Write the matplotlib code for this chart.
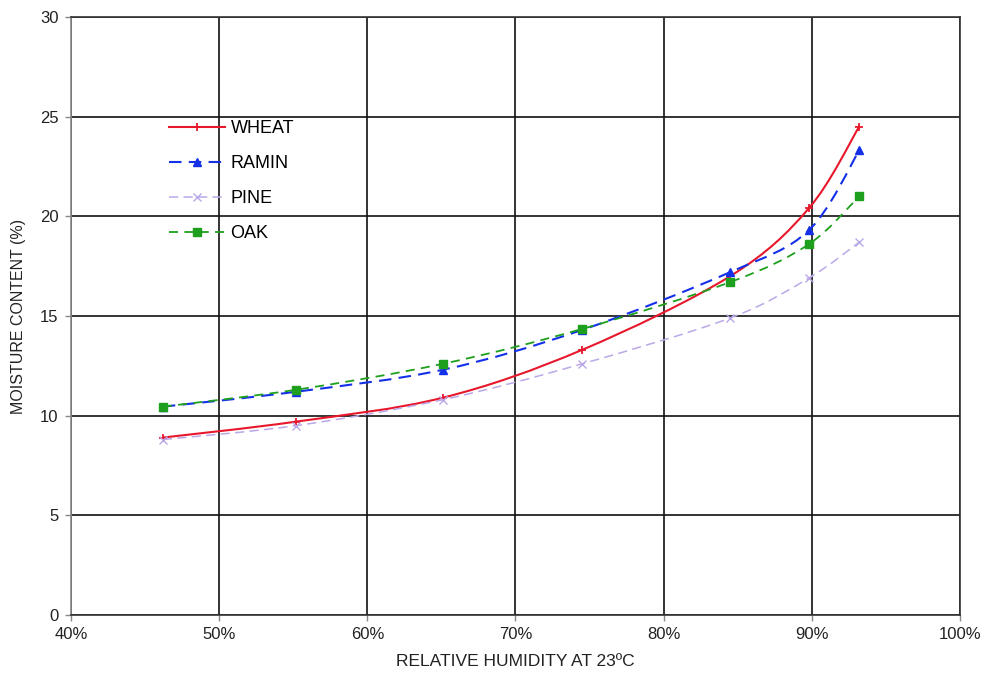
import matplotlib
matplotlib.use("Agg")
import matplotlib.pyplot as plt
import numpy as np
from matplotlib.path import Path
from matplotlib.patches import PathPatch
from matplotlib.lines import Line2D
from matplotlib.ticker import FuncFormatter, MultipleLocator

plt.rcParams['font.family'] = ['Liberation Sans', 'DejaVu Sans']

# Relative humidity of the salt-solution chambers (fraction)
humidity = [0.462, 0.552, 0.651, 0.745, 0.845, 0.898, 0.932]

# Equilibrium moisture content (%)
wheat = [8.9, 9.7, 10.9, 13.3, 17.0, 20.4, 24.5]
ramin = [10.45, 11.2, 12.3, 14.3, 17.2, 19.3, 23.3]
pine = [8.8, 9.5, 10.8, 12.6, 14.9, 16.9, 18.7]
oak = [10.45, 11.3, 12.6, 14.35, 16.7, 18.6, 21.0]

series = [
    ("WHEAT", wheat, dict(color="#E8182C", ls="-", lw=1.5, marker="+", ms=6, mew=1.3)),
    ("RAMIN", ramin, dict(color="#1430E8", ls=(0, (6, 3.5)), lw=1.5, marker="^", ms=6, mew=1)),
    ("PINE", pine, dict(color="#BBA8E8", ls=(0, (6, 3.5)), lw=1.1, marker="x", ms=5.5, mew=1)),
    ("OAK", oak, dict(color="#1EA01E", ls=(0, (5, 3.5)), lw=1.3, marker="s", ms=6, mew=1)),
]


def smooth_path(x, y, tension=1.0 / 6.0):
    """Cubic Bezier path through the points (Catmull-Rom style smoothing)."""
    pts = np.column_stack([x, y])
    n = len(pts)
    verts = [pts[0]]
    codes = [Path.MOVETO]
    for i in range(n - 1):
        p0 = pts[i - 1] if i > 0 else pts[i]
        p1 = pts[i]
        p2 = pts[i + 1]
        p3 = pts[i + 2] if i + 2 < n else pts[i + 1]
        c1 = p1 + (p2 - p0) * tension
        c2 = p2 - (p3 - p1) * tension
        verts += [c1, c2, p2]
        codes += [Path.CURVE4] * 3
    return Path(np.array(verts), codes)


fig = plt.figure(figsize=(9.86, 6.77), dpi=100)
ax = fig.add_axes([0.072, 0.0916, 0.9016, 0.8834])

ax.set_xlim(0.4, 1.0)
ax.set_ylim(0, 30)
ax.xaxis.set_major_locator(MultipleLocator(0.1))
ax.yaxis.set_major_locator(MultipleLocator(5))
ax.xaxis.set_major_formatter(FuncFormatter(lambda v, p: f"{v * 100:.0f}%"))
ax.grid(True, color="#111111", lw=1.2)
ax.set_axisbelow(True)
for s in ax.spines.values():
    s.set_color("#333333")
    s.set_linewidth(1.2)
ax.spines['left'].set_color("#888888")
ax.tick_params(axis="both", direction="out", length=4, width=1, color="#888888",
               labelsize=12, labelcolor="#222222", pad=5)

handles = []
for name, vals, st in series:
    path = smooth_path(np.array(humidity), np.array(vals))
    patch = PathPatch(path, fill=False, edgecolor=st["color"], lw=st["lw"],
                      linestyle=st["ls"], transform=ax.transData, zorder=3)
    ax.add_patch(patch)
    ax.plot(humidity, vals, ls="none", marker=st["marker"], ms=st["ms"],
            mew=st["mew"], color=st["color"], zorder=4)
    handles.append(Line2D([], [], color=st["color"], ls=st["ls"], lw=st["lw"],
                          marker=st["marker"], ms=st["ms"], mew=st["mew"], label=name))

ax.legend(handles=handles, loc="upper left", bbox_to_anchor=(0.155, 0.847),
          bbox_transform=fig.transFigure, frameon=False, fontsize=13,
          handlelength=3.1, handletextpad=0.3, labelspacing=1.0, numpoints=1)

ax.set_xlabel("RELATIVE HUMIDITY AT 23ºC", fontsize=12.5, color="#222222", labelpad=8)
ax.set_ylabel("MOISTURE CONTENT (%)", fontsize=11.5, color="#222222", labelpad=10)

fig.savefig("out.png", dpi=100, facecolor="white")
